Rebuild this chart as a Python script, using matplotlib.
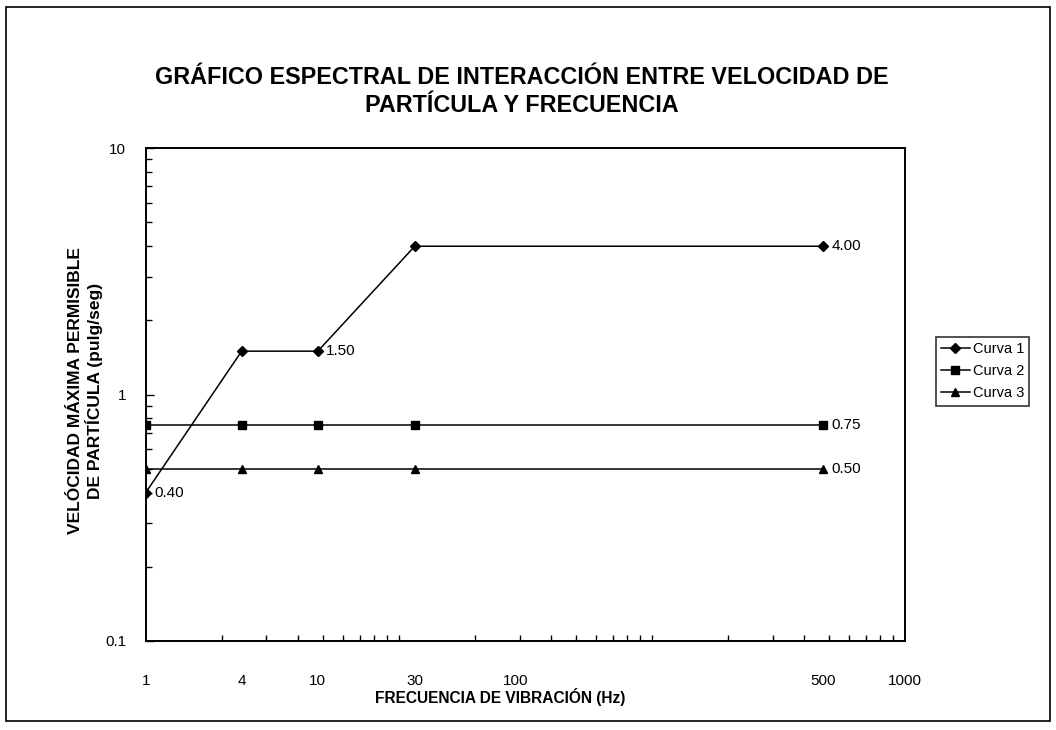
import numpy as np
import matplotlib
matplotlib.use("Agg")
import matplotlib.pyplot as plt
from matplotlib.patches import Rectangle

plt.rcParams['font.family'] = ['Liberation Sans', 'DejaVu Sans']

# data
freq = [1, 4, 10, 30, 500]
curva_1 = [0.40, 1.50, 1.50, 4.00, 4.00]
curva_2 = [0.75, 0.75, 0.75, 0.75, 0.75]
curva_3 = [0.50, 0.50, 0.50, 0.50, 0.50]
series_names = ["Curva 1", "Curva 2", "Curva 3"]

# x tick labels, and where the original puts them (in decades from 1 Hz)
tick_freq = [1, 4, 10, 30, 100, 500, 1000]
tick_pos = [0, 0.379, 0.68, 1.063, 1.462, 2.676, 3.0]

log_knots = np.log10(tick_freq)

def forward(x):
    x = np.clip(np.asarray(x, dtype=float), 1e-9, None)
    return np.interp(np.log10(x), log_knots, tick_pos)

def inverse(p):
    return 10 ** np.interp(np.asarray(p, dtype=float), tick_pos, log_knots)

fig = plt.figure(figsize=(10.56, 7.3), dpi=100)
ax = fig.add_axes([0.138, 0.122, 0.719, 0.675])

ax.set_xscale('function', functions=(forward, inverse))
ax.set_yscale('log')
ax.set_xlim(1, 1000)
ax.set_ylim(0.1, 10)

ax.plot(freq, curva_1, color='black', lw=1.1, marker='D', ms=5, label=series_names[0])
ax.plot(freq, curva_2, color='black', lw=1.1, marker='s', ms=6, label=series_names[1])
ax.plot(freq, curva_3, color='black', lw=1.1, marker='^', ms=6, label=series_names[2])

# value labels
for x, y in [(freq[0], curva_1[0]), (freq[2], curva_1[2]), (freq[-1], curva_1[-1]),
             (freq[-1], curva_2[-1]), (freq[-1], curva_3[-1])]:
    ax.annotate("%.2f" % y, (x, y), xytext=(6, 0), textcoords='offset points',
                va='center', ha='left', fontsize=11)

# x ticks: labels where the original has them, minor marks on a true log spacing
ax.set_xticks(tick_freq, [str(t) for t in tick_freq])
minor_true = [m * 10 ** d for d in range(3) for m in range(1, 10)][1:]
ax.set_xticks(inverse(np.log10(minor_true)), minor=True)
ax.tick_params(axis='x', which='major', length=0, pad=24, labelsize=11)
ax.tick_params(axis='x', which='minor', direction='in', length=4, width=1)

ax.set_yticks([0.1, 1, 10], ['0.1', '1', '10'])
ax.tick_params(axis='y', which='major', direction='in', length=6, width=1,
               pad=14, labelsize=11)
ax.tick_params(axis='y', which='minor', direction='in', length=4, width=1)

for s in ax.spines.values():
    s.set_linewidth(1.4)
    s.set_color('black')

fig.text(0.494, 0.875, "GRÁFICO ESPECTRAL DE INTERACCIÓN ENTRE VELOCIDAD DE\nPARTÍCULA Y FRECUENCIA",
         ha='center', va='center', fontsize=16.8, fontweight='bold', linespacing=1.25)
fig.text(0.474, 0.045, "FRECUENCIA DE VIBRACIÓN (Hz)", ha='center', va='center',
         fontsize=11.2, fontweight='bold')
fig.text(0.081, 0.465, "VELÓCIDAD MÁXIMA PERMISIBLE\nDE PARTÍCULA (pulg/seg)", ha='center',
         va='center', rotation=90, fontsize=12.5, fontweight='bold', linespacing=1.1)

leg = fig.legend(loc='upper left', bbox_to_anchor=(0.886, 0.538), fontsize=10.5,
                 frameon=True, fancybox=False, handlelength=2.0, handletextpad=0.2,
                 borderpad=0.35, labelspacing=0.55, borderaxespad=0)
leg.get_frame().set_edgecolor('black')
leg.get_frame().set_linewidth(1.2)

# outer border round the whole chart
fig.patches.append(Rectangle((0.006, 0.012), 0.988, 0.978, transform=fig.transFigure,
                             fill=False, edgecolor='black', lw=1.2))

fig.savefig("out.png", dpi=100)
